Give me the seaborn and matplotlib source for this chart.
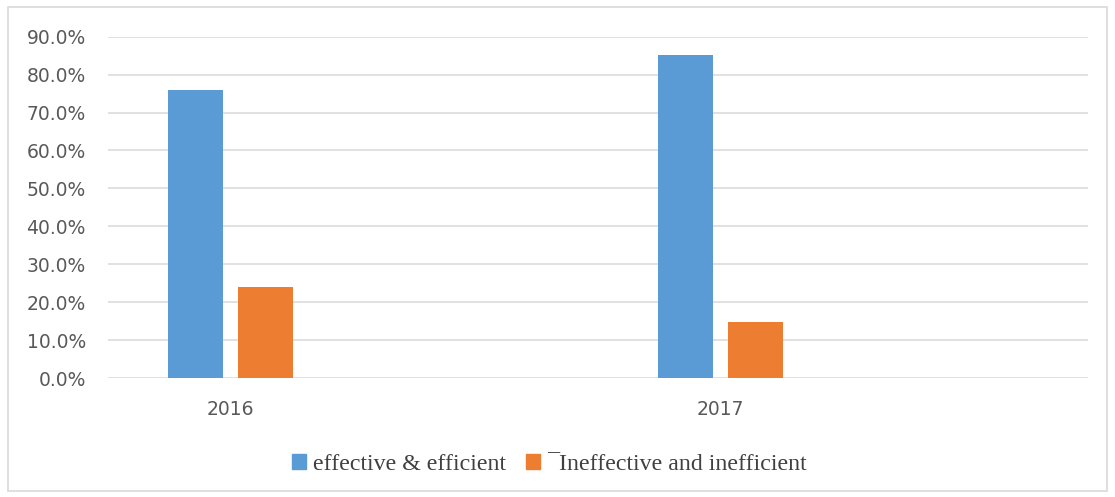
import matplotlib
matplotlib.use("Agg")
import pandas as pd
import matplotlib.pyplot as plt
import matplotlib.patches as mpatches
from matplotlib.ticker import PercentFormatter
import seaborn as sns

# ----------------------------------------------------------------------
# DATA
# ----------------------------------------------------------------------
years = ["2016", "2017"]
slots = ["2016", "_blank1", "2017", "_blank2"]   # Excel-style empty categories
series = ["effective & efficient", "\u00afIneffective and inefficient"]
effective = [0.760, 0.853]
ineffective = [0.240, 0.147]
yticks = [0.0, 0.1, 0.2, 0.3, 0.4, 0.5, 0.6, 0.7, 0.8, 0.9]
colors = ["#5B9BD5", "#ED7D31"]

df = pd.DataFrame({
    "Year": years * 2,
    "Series": [series[0]] * 2 + [series[1]] * 2,
    "Value": effective + ineffective,
})

sns.set_theme(style="white")
plt.rcParams["font.family"] = ["DejaVu Sans"]

fig = plt.figure(figsize=(11.15, 4.97), dpi=100)
ax = fig.add_axes([0.0969, 0.2394, 0.8789, 0.6868])

sns.barplot(data=df, x="Year", y="Value", hue="Series", order=slots,
            hue_order=series, palette=colors, width=0.5714, gap=0.214,
            saturation=1, linewidth=0, ax=ax, legend=False)

ax.set_xlim(-0.5, 3.5)
ax.set_ylim(0, 0.9)
ax.set_yticks(yticks)
ax.yaxis.set_major_formatter(PercentFormatter(1.0, decimals=1))
ax.set_xticks([0, 2])
ax.set_xticklabels(years)
ax.set_xlabel("")
ax.set_ylabel("")
ax.grid(axis="y", color="#D9D9D9", linewidth=1.1)
ax.set_axisbelow(True)
for s in ax.spines.values():
    s.set_visible(False)
ax.tick_params(axis="both", length=0, labelsize=13.5, colors="#595959")
ax.tick_params(axis="y", pad=16)
ax.tick_params(axis="x", pad=16)

handles = [mpatches.Patch(color=c, label=l) for c, l in zip(colors, series)]
fig.legend(handles=handles, loc="center", bbox_to_anchor=(0.493, 0.066),
           ncol=2, frameon=False, handlelength=0.58, handleheight=0.58,
           handletextpad=0.3, columnspacing=0.84,
           prop={"family": "Liberation Serif", "size": 17.2}, labelcolor="#404040")

# light outer border of the chart area
fig.patches.append(mpatches.Rectangle((0.007, 0.012), 0.986, 0.974, transform=fig.transFigure,
                                      fill=False, edgecolor="#D9D9D9", linewidth=1.2))

fig.savefig("out.png", dpi=100)
